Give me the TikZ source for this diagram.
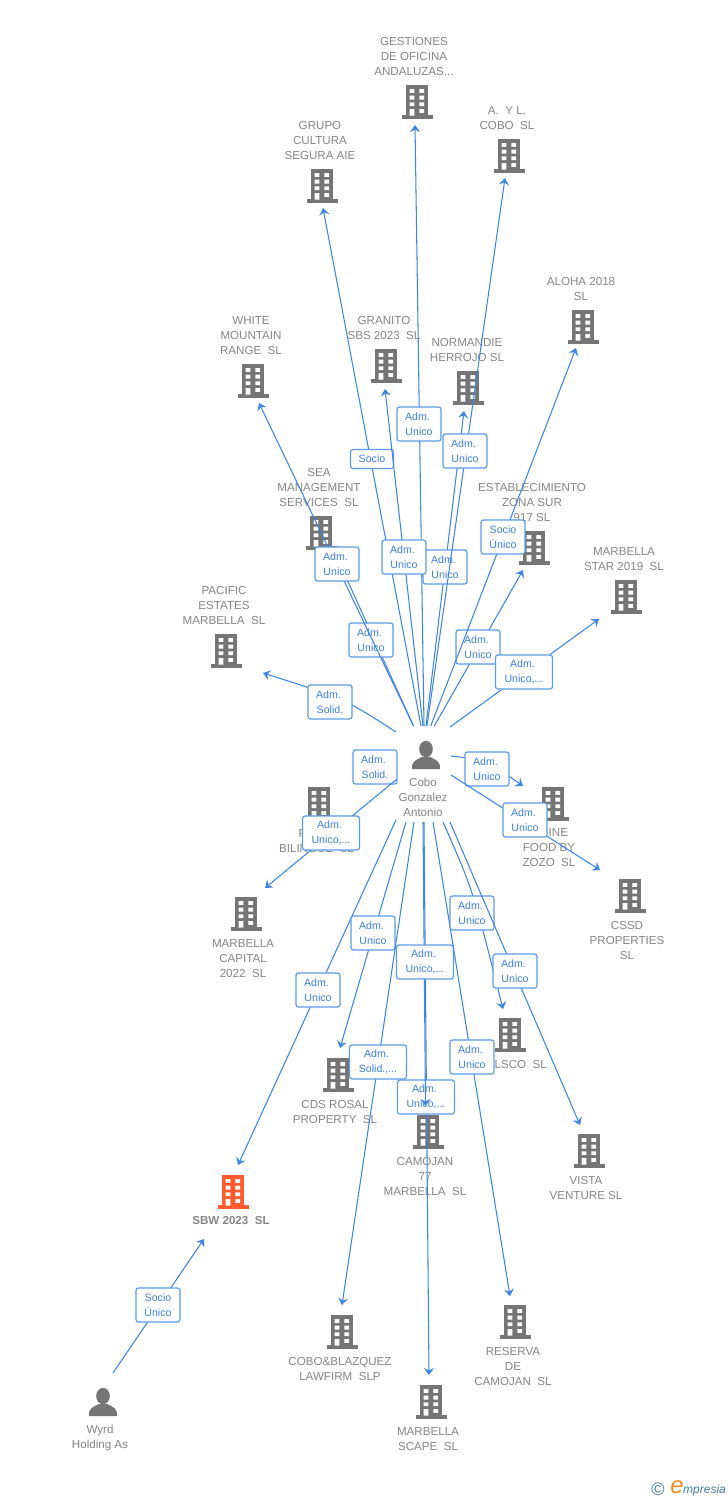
\documentclass[tikz,border=0pt]{standalone}
\usepackage{fontspec}
\setmainfont{Liberation Sans}
\usetikzlibrary{arrows.meta}
\definecolor{edgeblue}{HTML}{3F85E3}
\definecolor{boxblue}{HTML}{5B9BE8}
\definecolor{labelblue}{HTML}{3D80DC}
\definecolor{graytext}{HTML}{868686}
\definecolor{iconc}{HTML}{757575}
\definecolor{hot}{HTML}{FF5C2E}
\definecolor{logoteal}{HTML}{3F7D9C}
\definecolor{logoorange}{HTML}{F58A1F}
\tikzset{
  edgeline/.style={draw=edgeblue,line width=1.05pt,-{Stealth[length=7pt,width=10pt,inset=2.5pt]}},
  edgelabel/.style={draw=boxblue,fill=white,rounded corners=2.5pt,line width=1.2pt,inner sep=0pt,
     align=center,text=labelblue,font=\fontsize{10.6}{15}\selectfont},
  narrowbox/.style={edgelabel,minimum width=44pt,minimum height=34pt},
  widebox/.style={edgelabel,minimum width=57pt,minimum height=34pt},
  flatbox/.style={edgelabel,minimum width=43pt,minimum height=19pt},
  caption/.style={inner sep=0pt,align=center,text=graytext,font=\fontsize{11.6}{15}\selectfont},
}
% building: name, centre x, top y, colour
\newcommand\bldg[4]{%
  \coordinate (#1) at (#2,#3);
  \begin{scope}[shift={(#2,#3)}]
    \fill[#4] (-11,0) rectangle (11,31);
    \fill[#4] (-15.5,30) rectangle (15.5,33.6);
    \fill[white] (-7.5,4) rectangle (-2.6,7.9) (2.4,4) rectangle (7.1,7.9)
      (-7.5,10.7) rectangle (-2.6,14.5) (2.4,10.7) rectangle (7.1,14.5)
      (-7.5,17.3) rectangle (-2.6,21.2) (2.4,17.3) rectangle (7.1,21.2)
      (-7.5,24) rectangle (-2.6,30.5) (2.4,24) rectangle (7.1,27.9);
  \end{scope}}
% person: name, centre x, top y
\newcommand\persona[3]{%
  \coordinate (#1) at (#2,#3);
  \begin{scope}[shift={(#2,#3)}]
    \fill[iconc] (0,8) ellipse (6.8 and 8.2);
    \fill[iconc] (-14,28) .. controls (-14.5,20) and (-10,19) .. (-4,16) -- (4,16)
       .. controls (10,19) and (14.5,20) .. (14,28) -- cycle;
  \end{scope}}
% caption: name, x, y of first line centre, text
\newcommand\capt[4]{\node[caption,anchor=north] (#1) at (#2,#3-4) {#4};}
% edge: id, start x,y, end x,y, label x,y, label style, label text
\newcommand\edge[9]{%
  \coordinate (#1s) at (#2,#3);
  \coordinate (#1e) at (#4,#5);
  \draw[edgeline] (#1s) -- (#1e);
  \node[#8] (#1l) at (#6,#7) {#9};}
\newcommand\admu{\mbox{Adm.\hspace{3pt}}\\Unico}
\newcommand\admw{\mbox{Adm.\hspace{3pt}}\\Unico,...}
\newcommand\adms{\mbox{Adm.\hspace{3pt}}\\Solid.}
\newcommand\admy{\mbox{Adm.\hspace{3pt}}\\Solid.,...}
\newcommand\socu{Socio\\Único}
\begin{document}
\begin{tikzpicture}[x=1pt,y=-1pt]
\useasboundingbox (0,0) rectangle (728,1500);
\fill[white] (0,0) rectangle (728,1500);
% buildings
\bldg{bGest}{417}{85}{iconc}
\bldg{bCobo}{509}{139}{iconc}
\bldg{bGrupo}{322}{169}{iconc}
\bldg{bAloha}{583}{310}{iconc}
\bldg{bWhite}{253}{364}{iconc}
\bldg{bGran}{386}{349}{iconc}
\bldg{bNorm}{468}{371}{iconc}
\bldg{bSea}{321}{516}{iconc}
\bldg{bEst}{534}{531}{iconc}
\bldg{bStar}{626}{580}{iconc}
\bldg{bPac}{226}{634}{iconc}
\bldg{bBil}{319}{787}{iconc}
\bldg{bFood}{553}{787}{iconc}
\bldg{bCssd}{630}{879}{iconc}
\bldg{bCap}{246}{897}{iconc}
\bldg{bLsco}{510}{1018}{iconc}
\bldg{bCds}{338}{1058}{iconc}
\bldg{bCam}{428}{1115}{iconc}
\bldg{bVista}{589}{1134}{iconc}
\bldg{bSbw}{233}{1175}{hot}
\bldg{bLaw}{342}{1315}{iconc}
\bldg{bRes}{515}{1305}{iconc}
\bldg{bScape}{431}{1385}{iconc}
\persona{pCobo}{426}{741}
\persona{pWyrd}{103}{1388}
% captions
\capt{tGest}{414}{41}{GESTIONES\\DE OFICINA\\ANDALUZAS...}
\capt{tCobo}{507}{110}{A.~~Y L.\\COBO~~SL}
\capt{tGrupo}{320}{125}{GRUPO\\CULTURA\\SEGURA AIE}
\capt{tAloha}{581}{281}{ALOHA 2018\\SL}
\capt{tWhite}{251}{320}{WHITE\\MOUNTAIN\\RANGE~~SL}
\capt{tGran}{384}{320}{GRANITO\\SBS 2023~~SL}
\capt{tNorm}{467}{342}{NORMANDIE\\HERROJO SL}
\capt{tSea}{319}{472}{SEA\\MANAGEMENT\\SERVICES~~SL}
\capt{tEst}{532}{487}{ESTABLECIMIENTO\\ZONA SUR\\917 SL}
\capt{tStar}{624}{551}{MARBELLA\\STAR 2019~~SL}
\capt{tPac}{224}{590}{PACIFIC\\ESTATES\\MARBELLA~~SL}
\capt{tCen}{423}{782}{Cobo\\Gonzalez\\Antonio}
\capt{tBil}{316.5}{833.5}{\makebox[36pt][l]{P}\\BILINGUE~~SL}
\capt{tFood}{549}{832}{\makebox[38pt][r]{INE}\\FOOD BY\\ZOZO~~SL}
\capt{tCssd}{627}{925}{CSSD\\PROPERTIES\\SL}
\capt{tCap}{243}{943}{MARBELLA\\CAPITAL\\2022~~SL}
\node[caption,anchor=north east] (tLsco) at (547,1060) {LSCO~~SL};
\capt{tCds}{335}{1104}{CDS ROSAL\\PROPERTY~~SL}
\capt{tCam}{425}{1161}{CAMOJAN\\77\\MARBELLA~~SL}
\capt{tVista}{586}{1180}{VISTA\\VENTURE SL}
\node[caption,anchor=north,font=\fontsize{11.6}{15}\selectfont\bfseries] (tSbw) at (231,1216) {SBW 2023~~SL};
\capt{tLaw}{340}{1361}{COBO\&BLAZQUEZ\\LAWFIRM~~SLP}
\capt{tRes}{513}{1351}{RESERVA\\DE\\CAMOJAN~~SL}
\capt{tScape}{428}{1431}{MARBELLA\\SCAPE~~SL}
\capt{tWyrd}{100}{1429}{Wyrd\\Holding As}
% edges, upper fan
\edge{eSea}{413.5}{726}{335}{553}{371}{640}{narrowbox}{\admu}
\edge{eNorm}{426}{726}{464}{411}{445}{567}{narrowbox}{\admu}
\edge{eEst}{434.3}{726}{523}{570}{478}{647}{narrowbox}{\admu}
\edge{eGest}{424}{726}{415}{125}{419}{424}{narrowbox}{\admu}
\edge{eCobo}{427}{726}{505}{178}{465}{451}{narrowbox}{\admu}
\edge{eGrupo}{421}{726}{323}{208}{372}{459}{flatbox}{Socio}
\edge{eGran}{423}{726}{385}{389}{404}{557}{narrowbox}{\admu}
\edge{eWhite}{413.5}{726}{259}{403}{337}{564}{narrowbox}{\admu}
\edge{eAloha}{430.7}{726}{576}{348}{503}{537}{narrowbox}{\socu}
\edge{eStar}{450}{727}{599}{619}{524}{672}{widebox}{\admw}
\coordinate (ePacs) at (396,732);
\coordinate (ePacc) at (345,699);
\coordinate (ePace) at (263,673);
\draw[edgeline] (ePacs) .. controls (ePacc) .. (ePace);
\node[narrowbox] (ePacl) at (330,702) {\adms};
% edges, sides
\node[narrowbox] (eBill) at (375,767) {\adms};
\edge{eCap}{397}{779}{265}{888}{331}{833}{widebox}{\admw}
\coordinate (eFoods) at (451,756);
\coordinate (eFoodc) at (486,760);
\coordinate (eFoode) at (523,786);
\draw[edgeline] (eFoods) .. controls (eFoodc) .. (eFoode);
\node[narrowbox] (eFoodl) at (487,769) {\admu};
\edge{eCssd}{451}{775}{600}{870}{525}{820}{narrowbox}{\admu}
% edges, lower fan
\edge{eSbw}{396}{820}{238}{1165}{318}{990}{narrowbox}{\admu}
\edge{eCds}{406}{822}{340}{1048}{373}{933}{narrowbox}{\admu}
\edge{eScape}{424}{822}{429}{1375}{426}{1097}{widebox}{\admw}
\edge{eCam}{423}{822}{425.5}{1106}{425}{962}{widebox}{\admw}
\edge{eLaw}{414}{822}{342}{1305}{378}{1062}{widebox}{\admy}
\edge{eRes}{433}{822}{510}{1296}{472}{1057}{narrowbox}{\admu}
\coordinate (eLscos) at (443,822);
\coordinate (eLscoc) at (473,890);
\coordinate (eLscoe) at (503,1009);
\draw[edgeline] (eLscos) .. controls (eLscoc) .. (eLscoe);
\node[narrowbox] (eLscol) at (472,913) {\admu};
\edge{eVista}{450}{822}{580}{1125}{515}{971}{narrowbox}{\admu}
\edge{eWyrd}{113}{1373}{204}{1239}{158}{1305}{narrowbox}{\socu}
% logo
\node[inner sep=0pt,text=logoteal,font=\fontsize{18}{18}\selectfont] (logoC) at (658,1489) {©};
\node[inner sep=0pt,text=logoorange,font=\fontsize{24}{24}\selectfont\itshape] (logoE) at (677,1487) {e};
\node[inner sep=0pt,anchor=west,text=logoteal,font=\fontsize{12}{13}\selectfont\itshape] (logoT) at (683,1490) {mpresia};
\end{tikzpicture}
\end{document}
